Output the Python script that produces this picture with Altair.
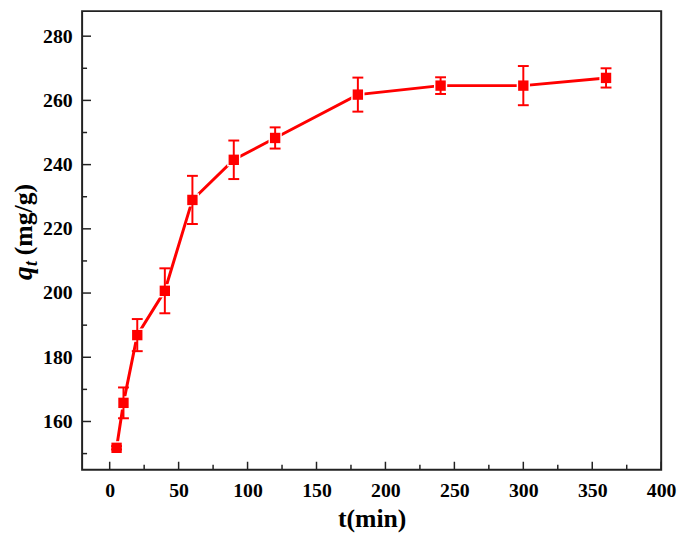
import altair as alt
import pandas as pd

# ---- data ----
t_min = [5, 10, 20, 40, 60, 90, 120, 180, 240, 300, 360]
q_t = [151.8, 165.8, 186.9, 200.7, 229.0, 241.5, 248.3, 261.8, 264.6, 264.6, 267.0]
q_err = [0.5, 4.8, 5.0, 7.0, 7.5, 6.0, 3.3, 5.3, 2.6, 6.1, 3.0]

x_major = [0, 50, 100, 150, 200, 250, 300, 350, 400]
x_minor = [25, 75, 125, 175, 225, 275, 325, 375]
y_major = [160, 180, 200, 220, 240, 260, 280]
y_minor = [150, 170, 190, 210, 230, 250, 270]

df = pd.DataFrame({"t": t_min, "q": q_t, "err": q_err})
df["lo"] = df["q"] - df["err"]
df["hi"] = df["q"] + df["err"]

FONT = "Liberation Serif"
RED = "#ff0000"
FRAME = "#222222"
W, H = 586, 464

xs = alt.Scale(domain=[-20, 400], nice=False, zero=False)
ys = alt.Scale(domain=[145, 287.8], nice=False, zero=False)

x_axis = alt.Axis(values=x_major, ticks=False, domain=False, grid=False,
                  labelFont=FONT, labelFontSize=20, labelFontWeight="bold",
                  labelColor="black", labelPadding=11, labelFlush=False,
                  labelOverlap=False, title="t(min)", titleFont=FONT,
                  titleFontSize=26, titleFontWeight="bold", titleColor="black",
                  titlePadding=6)
y_axis = alt.Axis(values=y_major, ticks=False, domain=False, grid=False,
                  labelFont=FONT, labelFontSize=20, labelFontWeight="bold",
                  labelColor="black", labelPadding=10, labelFlush=False,
                  labelOverlap=False, title=None)

base = alt.Chart(df)

line = base.mark_line(color=RED, strokeWidth=3).encode(
    x=alt.X("t:Q", scale=xs, axis=x_axis),
    y=alt.Y("q:Q", scale=ys, axis=y_axis),
)
halo = base.mark_square(color="white", size=180, opacity=1).encode(
    x=alt.X("t:Q", scale=xs), y=alt.Y("q:Q", scale=ys))
bars = base.mark_rule(color=RED, strokeWidth=2, opacity=1).encode(
    x=alt.X("t:Q", scale=xs),
    y=alt.Y("lo:Q", scale=ys), y2="hi:Q")
cap_hi = base.mark_tick(color=RED, thickness=2, size=11, orient="horizontal", opacity=1).encode(
    x=alt.X("t:Q", scale=xs), y=alt.Y("hi:Q", scale=ys))
cap_lo = base.mark_tick(color=RED, thickness=2, size=11, orient="horizontal", opacity=1).encode(
    x=alt.X("t:Q", scale=xs), y=alt.Y("lo:Q", scale=ys))
points = base.mark_square(color=RED, size=110, opacity=1).encode(
    x=alt.X("t:Q", scale=xs), y=alt.Y("q:Q", scale=ys))

# inward ticks
ytick_major = alt.Chart(pd.DataFrame({"q": y_major})).mark_rule(color=FRAME, strokeWidth=1.5).encode(
    y=alt.Y("q:Q", scale=ys), x=alt.value(0), x2=alt.value(9))
ytick_minor = alt.Chart(pd.DataFrame({"q": y_minor})).mark_rule(color=FRAME, strokeWidth=1.5).encode(
    y=alt.Y("q:Q", scale=ys), x=alt.value(0), x2=alt.value(5))
xtick_major = alt.Chart(pd.DataFrame({"t": x_major})).mark_rule(color=FRAME, strokeWidth=1.5).encode(
    x=alt.X("t:Q", scale=xs), y=alt.value(H), y2=alt.value(H - 8))
xtick_minor = alt.Chart(pd.DataFrame({"t": x_minor})).mark_rule(color=FRAME, strokeWidth=1.5).encode(
    x=alt.X("t:Q", scale=xs), y=alt.value(H), y2=alt.value(H - 5))

# y-axis title q_t (mg/g) built from pieces
Y0 = 272
XB = -51
title_q = alt.Chart(pd.DataFrame({"s": ["q"]})).mark_text(
    font=FONT, fontSize=28, fontWeight="bold", fontStyle="italic", angle=270,
    align="left", baseline="alphabetic", color="black").encode(
    text="s:N", x=alt.value(XB), y=alt.value(Y0))
title_t = alt.Chart(pd.DataFrame({"s": ["t"]})).mark_text(
    font=FONT, fontSize=18, fontWeight="bold", fontStyle="italic", angle=270,
    align="left", baseline="alphabetic", color="black").encode(
    text="s:N", x=alt.value(XB + 5), y=alt.value(Y0 - 14))
title_rest = alt.Chart(pd.DataFrame({"s": ["(mg/g)"]})).mark_text(
    font=FONT, fontSize=26, fontWeight="bold", angle=270,
    align="left", baseline="alphabetic", color="black").encode(
    text="s:N", x=alt.value(XB), y=alt.value(Y0 - 25))

chart = alt.layer(
    line, halo, bars, cap_hi, cap_lo, points,
    ytick_major, ytick_minor, xtick_major, xtick_minor,
    title_q, title_t, title_rest,
).properties(
    width=W, height=H,
    autosize=alt.AutoSizeParams(type="none"),
    padding={"left": 75, "top": 0, "right": 16, "bottom": 66},
    background="white",
).configure_view(stroke=FRAME, strokeWidth=2)

chart.save("out.html", embed_options={"renderer": "svg", "actions": False})
